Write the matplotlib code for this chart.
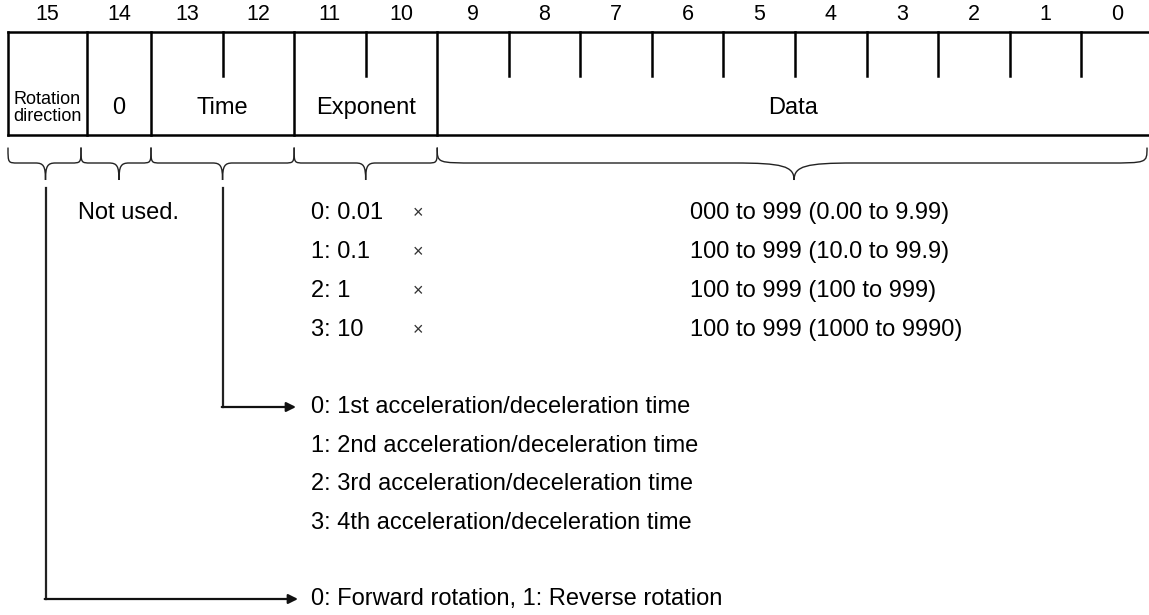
import matplotlib.pyplot as plt
from matplotlib.path import Path
from matplotlib.patches import PathPatch

plt.rcParams['font.family'] = ['Liberation Sans', 'DejaVu Sans']

# bit numbers shown above the register, MSB first
bit_numbers = [str(b) for b in range(15, -1, -1)]

# fields: (first bit, last bit, label)
fields = [(15, 15, "Rotation\ndirection"),
          (14, 14, "0"),
          (13, 12, "Time"),
          (11, 10, "Exponent"),
          (9, 0, "Data")]

exponent_codes = ["0: 0.01", "1: 0.1", "2: 1", "3: 10"]
data_ranges = ["000 to 999 (0.00 to 9.99)",
               "100 to 999 (10.0 to 99.9)",
               "100 to 999 (100 to 999)",
               "100 to 999 (1000 to 9990)"]
time_codes = ["0: 1st acceleration/deceleration time",
              "1: 2nd acceleration/deceleration time",
              "2: 3rd acceleration/deceleration time",
              "3: 4th acceleration/deceleration time"]
rotation_text = "0: Forward rotation, 1: Reverse rotation"
not_used_text = "Not used."

# layout in pixels
W, H = 1149, 615
BOX_TOP, BOX_BOT, TICK_BOT = 32, 135, 76
BIT_W = 71.55
FS = 17
# left edges of bits 15..0 plus right edge of bit 0
edges = [8, 87] + [151 + BIT_W * k for k in range(15)]


def bit_left(b):
    return edges[15 - b]


def bit_right(b):
    return edges[16 - b]


def brace(ax, x0, x1, tip, top=148, mid=163, bot=180, r=10, rt=10):
    verts = [(x0, top), (x0, mid), (x0, mid), (x0 + r, mid),
             (tip - rt, mid),
             (tip - rt * 0.2, mid), (tip, mid + 3), (tip, bot),
             (tip, mid + 3), (tip + rt * 0.2, mid), (tip + rt, mid),
             (x1 - r, mid),
             (x1, mid), (x1, mid), (x1, top)]
    codes = [Path.MOVETO, Path.CURVE4, Path.CURVE4, Path.CURVE4,
             Path.LINETO,
             Path.CURVE4, Path.CURVE4, Path.CURVE4,
             Path.CURVE4, Path.CURVE4, Path.CURVE4,
             Path.LINETO,
             Path.CURVE4, Path.CURVE4, Path.CURVE4]
    ax.add_patch(PathPatch(Path(verts, codes), fill=False, lw=1.0,
                           edgecolor='#222222', capstyle='round'))


fig = plt.figure(figsize=(W / 100, H / 100), dpi=100)
ax = fig.add_axes([0, 0, 1, 1])
ax.set_xlim(0, W)
ax.set_ylim(H, 0)
ax.axis('off')

lw_box = 1.8
# register box outline
ax.plot([edges[0], W], [BOX_TOP, BOX_TOP], color='black', lw=lw_box)
ax.plot([edges[0], W], [BOX_BOT, BOX_BOT], color='black', lw=lw_box)

# bit numbers
for i, txt in enumerate(bit_numbers):
    b = 15 - i
    xc = (bit_left(b) + bit_right(b)) / 2
    ax.text(xc, 15, txt, ha='center', va='center', fontsize=15.5)

tips = {}
for hi, lo, label in fields:
    x0, x1 = bit_left(hi), bit_right(lo)
    ax.plot([x0, x0], [BOX_TOP, BOX_BOT], color='black', lw=lw_box)
    for b in range(hi - 1, lo - 1, -1):
        xb = bit_left(b)
        ax.plot([xb, xb], [BOX_TOP, TICK_BOT], color='black', lw=lw_box)
    xc = (x0 + min(x1, W)) / 2
    fs = 13 if '\n' in label else FS
    ax.text(xc, 108, label, ha='center', va='center', fontsize=fs,
            linespacing=1.05)
    # braces below the fields
    bx1 = min(x1, W - 2)
    tip = (x0 + bx1) / 2
    if hi == 15:
        x0, bx1, tip = 8, 81, 45.5
    if hi == 14:
        x0 = 81
    if lo == 0:
        brace(ax, x0, bx1, tip + 2, r=40, rt=60)
    else:
        brace(ax, x0, bx1, tip)
    tips[hi] = tip

ax.text(128, 213, not_used_text, ha='center', va='center', fontsize=FS)

row_y = [213, 252, 291, 330]
for y, code, rng in zip(row_y, exponent_codes, data_ranges):
    ax.text(311, y, code, ha='left', va='center', fontsize=FS)
    ax.text(418, y + 1, "\u00d7", ha='center', va='center', fontsize=13,
            color='#333333')
    ax.text(690, y, rng, ha='left', va='center', fontsize=FS)

# time selection arrow
time_y = [407, 446, 484, 523]
xt = tips[13]
ax.plot([xt, xt], [188, time_y[0]], color='#222222', lw=1.6)
ax.annotate('', xy=(296, time_y[0]), xytext=(xt - 0.8, time_y[0]),
            arrowprops=dict(arrowstyle='-|>', lw=1.6, color='#111111',
                            mutation_scale=14, shrinkA=0, shrinkB=0))
for y, txt in zip(time_y, time_codes):
    ax.text(311, y, txt, ha='left', va='center', fontsize=FS)

# rotation direction arrow
rot_y = 599
xr = tips[15]
ax.plot([xr, xr], [188, rot_y], color='#222222', lw=1.6)
ax.annotate('', xy=(298, rot_y), xytext=(xr - 0.8, rot_y),
            arrowprops=dict(arrowstyle='-|>', lw=1.6, color='#111111',
                            mutation_scale=14, shrinkA=0, shrinkB=0))
ax.text(311, rot_y, rotation_text, ha='left', va='center', fontsize=FS)

fig.savefig('out.png', dpi=100)
